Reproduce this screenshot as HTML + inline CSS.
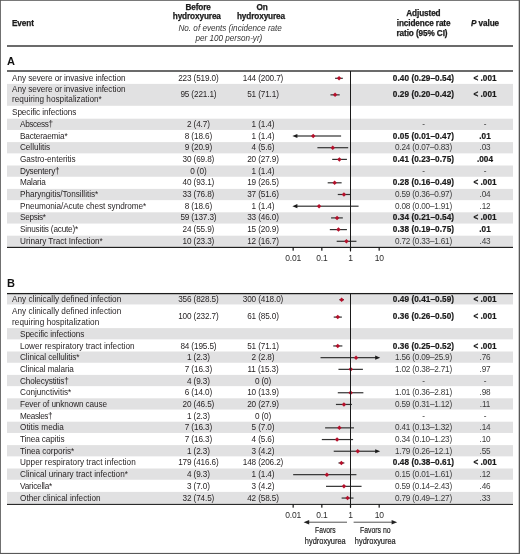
<!DOCTYPE html>
<html lang="en"><head><meta charset="utf-8"><title>Forest plot: infections before and on hydroxyurea</title>
<style>
html,body{margin:0;padding:0;background:#fff}
body{width:520px;height:554px;position:relative;overflow:hidden;font-family:"Liberation Sans",sans-serif;color:#231f20;font-size:8px}
svg{position:absolute;left:0;top:0}
.c{position:absolute;white-space:nowrap;font-size:8.2px;line-height:10px}
.ev{letter-spacing:-0.07px}
.n1,.n2{letter-spacing:-0.13px}
.pv.b{letter-spacing:0px}
.pv.l{letter-spacing:-0.1px}
.n1{left:148.4px;width:100px;text-align:center}
.n2{left:213px;width:100px;text-align:center}
.irr{left:373.5px;width:100px;text-align:center}
.pv{left:435px;width:100px;text-align:center}
.b{font-weight:bold;color:#1a1a1a;-webkit-text-stroke:0.2px #1a1a1a}
.irr.b{letter-spacing:0.08px}
.irr.l{letter-spacing:-0.19px}
.l{color:#3a3a3a}
.h{position:absolute;-webkit-text-stroke:0.25px #1a1a1a;font-weight:bold;font-size:8.2px;letter-spacing:-0.1px;white-space:nowrap;color:#1a1a1a}
.ctr{text-align:center}
.sub{position:absolute;font-style:italic;font-size:8.15px;white-space:nowrap;color:#333}
.sec{position:absolute;left:7px;font-weight:bold;font-size:11px;line-height:13px;color:#111}
.tk{font-family:"Liberation Sans",sans-serif;font-size:8.5px;letter-spacing:-0.2px;fill:#2e2e2e}
.fv{font-family:"Liberation Sans",sans-serif;font-size:9.6px;fill:#222;stroke:#222;stroke-width:0.2px}
</style></head><body>
<svg width="520" height="554" viewBox="0 0 520 554">
<rect x="7.00" y="83.90" width="506.00" height="21.90" fill="#e1e1e2"/>
<rect x="7.00" y="118.70" width="506.00" height="11.25" fill="#e1e1e2"/>
<rect x="7.00" y="142.10" width="506.00" height="11.25" fill="#e1e1e2"/>
<rect x="7.00" y="165.50" width="506.00" height="11.25" fill="#e1e1e2"/>
<rect x="7.00" y="188.90" width="506.00" height="11.25" fill="#e1e1e2"/>
<rect x="7.00" y="212.30" width="506.00" height="11.25" fill="#e1e1e2"/>
<rect x="7.00" y="235.70" width="506.00" height="11.25" fill="#e1e1e2"/>
<rect x="335.09" y="77.70" width="7.74" height="1.2" fill="#333333"/>
<path d="M336.84 78.30L339.09 76.05L341.34 78.30L339.09 80.55Z" fill="#b5102b"/>
<rect x="330.46" y="94.25" width="9.24" height="1.2" fill="#333333"/>
<path d="M332.84 94.85L335.09 92.60L337.34 94.85L335.09 97.10Z" fill="#b5102b"/>
<rect x="296.40" y="135.40" width="44.70" height="1.2" fill="#333333"/>
<path d="M292.40 136.00L297.40 133.90L297.40 138.10Z" fill="#1a1a1a"/>
<path d="M310.95 136.00L313.20 133.75L315.45 136.00L313.20 138.25Z" fill="#b5102b"/>
<rect x="317.39" y="147.10" width="30.79" height="1.2" fill="#333333"/>
<path d="M330.48 147.70L332.73 145.45L334.98 147.70L332.73 149.95Z" fill="#b5102b"/>
<rect x="332.20" y="158.80" width="14.72" height="1.2" fill="#333333"/>
<path d="M337.15 159.40L339.40 157.15L341.65 159.40L339.40 161.65Z" fill="#b5102b"/>
<rect x="327.68" y="182.20" width="13.94" height="1.2" fill="#333333"/>
<path d="M332.40 182.80L334.65 180.55L336.90 182.80L334.65 185.05Z" fill="#b5102b"/>
<rect x="337.78" y="193.90" width="12.34" height="1.2" fill="#333333"/>
<path d="M341.68 194.50L343.93 192.25L346.18 194.50L343.93 196.75Z" fill="#b5102b"/>
<rect x="296.40" y="205.60" width="62.16" height="1.2" fill="#333333"/>
<path d="M292.40 206.20L297.40 204.10L297.40 208.30Z" fill="#1a1a1a"/>
<path d="M316.80 206.20L319.05 203.95L321.30 206.20L319.05 208.45Z" fill="#b5102b"/>
<rect x="331.07" y="217.30" width="11.76" height="1.2" fill="#333333"/>
<path d="M334.82 217.90L337.07 215.65L339.32 217.90L337.07 220.15Z" fill="#b5102b"/>
<rect x="329.82" y="229.00" width="17.10" height="1.2" fill="#333333"/>
<path d="M336.20 229.60L338.45 227.35L340.70 229.60L338.45 231.85Z" fill="#b5102b"/>
<rect x="336.70" y="240.70" width="19.73" height="1.2" fill="#333333"/>
<path d="M344.16 241.30L346.41 239.05L348.66 241.30L346.41 243.55Z" fill="#b5102b"/>
<rect x="7.00" y="293.90" width="506.00" height="10.55" fill="#e1e1e2"/>
<rect x="7.00" y="328.10" width="506.00" height="11.25" fill="#e1e1e2"/>
<rect x="7.00" y="351.50" width="506.00" height="11.25" fill="#e1e1e2"/>
<rect x="7.00" y="374.90" width="506.00" height="11.25" fill="#e1e1e2"/>
<rect x="7.00" y="398.30" width="506.00" height="11.25" fill="#e1e1e2"/>
<rect x="7.00" y="421.70" width="506.00" height="11.25" fill="#e1e1e2"/>
<rect x="7.00" y="445.10" width="506.00" height="11.25" fill="#e1e1e2"/>
<rect x="7.00" y="468.50" width="506.00" height="11.25" fill="#e1e1e2"/>
<rect x="7.00" y="491.90" width="506.00" height="11.25" fill="#e1e1e2"/>
<rect x="339.40" y="299.10" width="4.53" height="1.2" fill="#333333"/>
<path d="M339.37 299.70L341.62 297.45L343.87 299.70L341.62 301.95Z" fill="#b5102b"/>
<rect x="333.73" y="316.50" width="8.14" height="1.2" fill="#333333"/>
<path d="M335.53 317.10L337.78 314.85L340.03 317.10L337.78 319.35Z" fill="#b5102b"/>
<rect x="333.24" y="345.35" width="9.12" height="1.2" fill="#333333"/>
<path d="M335.53 345.95L337.78 343.70L340.03 345.95L337.78 348.20Z" fill="#b5102b"/>
<rect x="320.52" y="357.05" width="55.68" height="1.2" fill="#333333"/>
<path d="M380.20 357.65L375.20 355.55L375.20 359.75Z" fill="#1a1a1a"/>
<path d="M353.79 357.65L356.04 355.40L358.29 357.65L356.04 359.90Z" fill="#b5102b"/>
<rect x="338.45" y="368.75" width="24.46" height="1.2" fill="#333333"/>
<path d="M348.50 369.35L350.75 367.10L353.00 369.35L350.75 371.60Z" fill="#b5102b"/>
<rect x="337.78" y="392.15" width="25.59" height="1.2" fill="#333333"/>
<path d="M348.37 392.75L350.62 390.50L352.87 392.75L350.62 395.00Z" fill="#b5102b"/>
<rect x="335.92" y="403.85" width="15.99" height="1.2" fill="#333333"/>
<path d="M341.68 404.45L343.93 402.20L346.18 404.45L343.93 406.70Z" fill="#b5102b"/>
<rect x="325.10" y="427.25" width="28.86" height="1.2" fill="#333333"/>
<path d="M337.15 427.85L339.40 425.60L341.65 427.85L339.40 430.10Z" fill="#b5102b"/>
<rect x="321.83" y="438.95" width="31.25" height="1.2" fill="#333333"/>
<path d="M334.82 439.55L337.07 437.30L339.32 439.55L337.07 441.80Z" fill="#b5102b"/>
<rect x="333.73" y="450.65" width="42.47" height="1.2" fill="#333333"/>
<path d="M380.20 451.25L375.20 449.15L375.20 453.35Z" fill="#1a1a1a"/>
<path d="M355.50 451.25L357.75 449.00L360.00 451.25L357.75 453.50Z" fill="#b5102b"/>
<rect x="338.45" y="462.35" width="5.89" height="1.2" fill="#333333"/>
<path d="M339.11 462.95L341.36 460.70L343.61 462.95L341.36 465.20Z" fill="#b5102b"/>
<rect x="293.16" y="474.05" width="63.27" height="1.2" fill="#333333"/>
<path d="M324.63 474.65L326.88 472.40L329.13 474.65L326.88 476.90Z" fill="#b5102b"/>
<rect x="326.02" y="485.75" width="35.54" height="1.2" fill="#333333"/>
<path d="M341.68 486.35L343.93 484.10L346.18 486.35L343.93 488.60Z" fill="#b5102b"/>
<rect x="341.62" y="497.45" width="11.86" height="1.2" fill="#333333"/>
<path d="M345.31 498.05L347.56 495.80L349.81 498.05L347.56 500.30Z" fill="#b5102b"/>
<rect x="7.00" y="45.35" width="506.00" height="1.30" fill="#1c1c1c"/>
<rect x="7.00" y="70.35" width="506.00" height="1.30" fill="#1c1c1c"/>
<rect x="7.00" y="246.83" width="506.00" height="1.15" fill="#1c1c1c"/>
<rect x="7.00" y="292.98" width="506.00" height="1.25" fill="#1c1c1c"/>
<rect x="7.00" y="503.78" width="506.00" height="1.15" fill="#1c1c1c"/>
<rect x="350.00" y="71" width="1.0" height="180.5" fill="#1a1a1a"/>
<rect x="350.00" y="293.6" width="1.0" height="214" fill="#1a1a1a"/>
<rect x="292.56" y="247.40" width="1.2" height="3.3" fill="#151515"/>
<text x="293.16" y="260.60" text-anchor="middle" class="tk">0.01</text>
<rect x="321.23" y="247.40" width="1.2" height="3.3" fill="#151515"/>
<text x="321.83" y="260.60" text-anchor="middle" class="tk">0.1</text>
<rect x="349.90" y="247.40" width="1.2" height="3.3" fill="#151515"/>
<text x="350.50" y="260.60" text-anchor="middle" class="tk">1</text>
<rect x="378.57" y="247.40" width="1.2" height="3.3" fill="#151515"/>
<text x="379.17" y="260.60" text-anchor="middle" class="tk">10</text>
<rect x="292.56" y="504.35" width="1.2" height="3.3" fill="#151515"/>
<text x="293.16" y="517.55" text-anchor="middle" class="tk">0.01</text>
<rect x="321.23" y="504.35" width="1.2" height="3.3" fill="#151515"/>
<text x="321.83" y="517.55" text-anchor="middle" class="tk">0.1</text>
<rect x="349.90" y="504.35" width="1.2" height="3.3" fill="#151515"/>
<text x="350.50" y="517.55" text-anchor="middle" class="tk">1</text>
<rect x="378.57" y="504.35" width="1.2" height="3.3" fill="#151515"/>
<text x="379.17" y="517.55" text-anchor="middle" class="tk">10</text>
<rect x="307" y="521.7" width="40" height="1" fill="#555"/>
<path d="M303.6 522.2L309.2 520.0L309.2 524.4000000000001Z" fill="#222"/>
<rect x="353.6" y="521.7" width="40" height="1" fill="#555"/>
<path d="M397.2 522.2L391.6 520.0L391.6 524.4000000000001Z" fill="#222"/>
<text transform="translate(325.3 533.4) scale(0.7 1)" text-anchor="middle" class="fv">Favors</text>
<text transform="translate(325.3 544.4) scale(0.775 1)" text-anchor="middle" class="fv">hydroxyurea</text>
<text transform="translate(375.3 533.4) scale(0.72 1)" text-anchor="middle" class="fv">Favors no</text>
<text transform="translate(375.3 544.4) scale(0.775 1)" text-anchor="middle" class="fv">hydroxyurea</text>
<rect x="0" y="0" width="0.85" height="554" fill="#585858"/>
<rect x="0" y="0" width="520" height="0.8" fill="#585858"/>
<rect x="518.7" y="0" width="1.3" height="554" fill="#585858"/>
<rect x="0" y="552.9" width="520" height="1.1" fill="#585858"/>
</svg>
<div class="h" style="left:12px;top:19px;line-height:10px">Event</div>
<div class="h ctr" style="left:148.1px;width:100px;top:3px;line-height:10px">Before</div>
<div class="h ctr" style="left:146.8px;width:100px;top:12px;line-height:10px">hydroxyurea</div>
<div class="h ctr" style="left:212.2px;width:100px;top:3px;line-height:10px">On</div>
<div class="h ctr" style="left:211px;width:100px;top:12px;line-height:10px">hydroxyurea</div>
<div class="sub ctr" style="left:150.2px;width:160px;top:24px;line-height:10px">No. of events (incidence rate</div>
<div class="sub ctr" style="left:148.9px;width:160px;top:34px;line-height:10px">per 100 person-yr)</div>
<div class="h ctr" style="left:373.4px;width:100px;top:9px;line-height:10px">Adjusted</div>
<div class="h ctr" style="left:373.6px;width:100px;top:19px;line-height:10px">incidence rate</div>
<div class="h ctr" style="left:372px;width:100px;top:29px;line-height:10px">ratio (95% CI)</div>
<div class="h ctr" style="left:435px;width:100px;top:19px;line-height:10px"><i>P</i> value</div>
<div class="sec" style="top:54.5px">A</div>
<div class="sec" style="top:277.2px">B</div>
<div class="c ev" style="top:74px;left:12px;letter-spacing:-0.055px">Any severe or invasive infection</div>
<div class="c n1" style="top:74px">223 (519.0)</div>
<div class="c n2" style="top:74px">144 (200.7)</div>
<div class="c irr b" style="top:74px">0.40 (0.29–0.54)</div>
<div class="c pv b" style="top:74px">< .001</div>
<div class="c ev" style="top:85px;left:12px;letter-spacing:-0.055px">Any severe or invasive infection</div>
<div class="c ev" style="top:95px;left:12px;letter-spacing:0.021px">requiring hospitalization*</div>
<div class="c n1" style="top:90px">95 (221.1)</div>
<div class="c n2" style="top:90px">51 (71.1)</div>
<div class="c irr b" style="top:90px">0.29 (0.20–0.42)</div>
<div class="c pv b" style="top:90px">< .001</div>
<div class="c ev" style="top:108px;left:12px;letter-spacing:-0.07px">Specific infections</div>
<div class="c ev" style="top:120px;left:20px;letter-spacing:-0.333px">Abscess†</div>
<div class="c n1" style="top:120px">2 (4.7)</div>
<div class="c n2" style="top:120px">1 (1.4)</div>
<div class="c irr l" style="top:120px">-</div>
<div class="c pv l" style="top:120px">-</div>
<div class="c ev" style="top:132px;left:20px;letter-spacing:-0.144px">Bacteraemia*</div>
<div class="c n1" style="top:132px">8 (18.6)</div>
<div class="c n2" style="top:132px">1 (1.4)</div>
<div class="c irr b" style="top:132px">0.05 (0.01–0.47)</div>
<div class="c pv b" style="top:132px">.01</div>
<div class="c ev" style="top:143px;left:20px;letter-spacing:-0.051px">Cellulitis</div>
<div class="c n1" style="top:143px">9 (20.9)</div>
<div class="c n2" style="top:143px">4 (5.6)</div>
<div class="c irr l" style="top:143px">0.24 (0.07–0.83)</div>
<div class="c pv l" style="top:143px">.03</div>
<div class="c ev" style="top:155px;left:20px;letter-spacing:-0.03px">Gastro-enteritis</div>
<div class="c n1" style="top:155px">30 (69.8)</div>
<div class="c n2" style="top:155px">20 (27.9)</div>
<div class="c irr b" style="top:155px">0.41 (0.23–0.75)</div>
<div class="c pv b" style="top:155px">.004</div>
<div class="c ev" style="top:167px;left:20px;letter-spacing:-0.202px">Dysentery†</div>
<div class="c n1" style="top:167px">0 (0)</div>
<div class="c n2" style="top:167px">1 (1.4)</div>
<div class="c irr l" style="top:167px">-</div>
<div class="c pv l" style="top:167px">-</div>
<div class="c ev" style="top:178px;left:20px;letter-spacing:-0.171px">Malaria</div>
<div class="c n1" style="top:178px">40 (93.1)</div>
<div class="c n2" style="top:178px">19 (26.5)</div>
<div class="c irr b" style="top:178px">0.28 (0.16–0.49)</div>
<div class="c pv b" style="top:178px">< .001</div>
<div class="c ev" style="top:190px;left:20px;letter-spacing:-0.021px">Pharyngitis/Tonsillitis*</div>
<div class="c n1" style="top:190px">33 (76.8)</div>
<div class="c n2" style="top:190px">37 (51.6)</div>
<div class="c irr l" style="top:190px">0.59 (0.36–0.97)</div>
<div class="c pv l" style="top:190px">.04</div>
<div class="c ev" style="top:202px;left:20px;letter-spacing:-0.054px">Pneumonia/Acute chest syndrome*</div>
<div class="c n1" style="top:202px">8 (18.6)</div>
<div class="c n2" style="top:202px">1 (1.4)</div>
<div class="c irr l" style="top:202px">0.08 (0.00–1.91)</div>
<div class="c pv l" style="top:202px">.12</div>
<div class="c ev" style="top:213px;left:20px;letter-spacing:-0.31px">Sepsis*</div>
<div class="c n1" style="top:213px">59 (137.3)</div>
<div class="c n2" style="top:213px">33 (46.0)</div>
<div class="c irr b" style="top:213px">0.34 (0.21–0.54)</div>
<div class="c pv b" style="top:213px">< .001</div>
<div class="c ev" style="top:225px;left:20px;letter-spacing:-0.191px">Sinusitis (acute)*</div>
<div class="c n1" style="top:225px">24 (55.9)</div>
<div class="c n2" style="top:225px">15 (20.9)</div>
<div class="c irr b" style="top:225px">0.38 (0.19–0.75)</div>
<div class="c pv b" style="top:225px">.01</div>
<div class="c ev" style="top:237px;left:20px;letter-spacing:-0.023px">Urinary Tract Infection*</div>
<div class="c n1" style="top:237px">10 (23.3)</div>
<div class="c n2" style="top:237px">12 (16.7)</div>
<div class="c irr l" style="top:237px">0.72 (0.33–1.61)</div>
<div class="c pv l" style="top:237px">.43</div>
<div class="c ev" style="top:295px;left:12px;letter-spacing:0.015px">Any clinically defined infection</div>
<div class="c n1" style="top:295px">356 (828.5)</div>
<div class="c n2" style="top:295px">300 (418.0)</div>
<div class="c irr b" style="top:295px">0.49 (0.41–0.59)</div>
<div class="c pv b" style="top:295px">< .001</div>
<div class="c ev" style="top:307px;left:12px;letter-spacing:0.015px">Any clinically defined infection</div>
<div class="c ev" style="top:318px;left:12px;letter-spacing:0.05px">requiring hospitalization</div>
<div class="c n1" style="top:312px">100 (232.7)</div>
<div class="c n2" style="top:312px">61 (85.0)</div>
<div class="c irr b" style="top:312px">0.36 (0.26–0.50)</div>
<div class="c pv b" style="top:312px">< .001</div>
<div class="c ev" style="top:330px;left:20px;letter-spacing:-0.07px">Specific infections</div>
<div class="c ev" style="top:342px;left:20px;letter-spacing:0.009px">Lower respiratory tract infection</div>
<div class="c n1" style="top:342px">84 (195.5)</div>
<div class="c n2" style="top:342px">51 (71.1)</div>
<div class="c irr b" style="top:342px">0.36 (0.25–0.52)</div>
<div class="c pv b" style="top:342px">< .001</div>
<div class="c ev" style="top:353px;left:20px;letter-spacing:-0.052px">Clinical cellulitis*</div>
<div class="c n1" style="top:353px">1 (2.3)</div>
<div class="c n2" style="top:353px">2 (2.8)</div>
<div class="c irr l" style="top:353px">1.56 (0.09–25.9)</div>
<div class="c pv l" style="top:353px">.76</div>
<div class="c ev" style="top:365px;left:20px;letter-spacing:-0.114px">Clinical malaria</div>
<div class="c n1" style="top:365px">7 (16.3)</div>
<div class="c n2" style="top:365px">11 (15.3)</div>
<div class="c irr l" style="top:365px">1.02 (0.38–2.71)</div>
<div class="c pv l" style="top:365px">.97</div>
<div class="c ev" style="top:377px;left:20px;letter-spacing:-0.131px">Cholecystitis†</div>
<div class="c n1" style="top:377px">4 (9.3)</div>
<div class="c n2" style="top:377px">0 (0)</div>
<div class="c irr l" style="top:377px">-</div>
<div class="c pv l" style="top:377px">-</div>
<div class="c ev" style="top:388px;left:20px;letter-spacing:-0.012px">Conjunctivitis*</div>
<div class="c n1" style="top:388px">6 (14.0)</div>
<div class="c n2" style="top:388px">10 (13.9)</div>
<div class="c irr l" style="top:388px">1.01 (0.36–2.81)</div>
<div class="c pv l" style="top:388px">.98</div>
<div class="c ev" style="top:400px;left:20px;letter-spacing:-0.102px">Fever of unknown cause</div>
<div class="c n1" style="top:400px">20 (46.5)</div>
<div class="c n2" style="top:400px">20 (27.9)</div>
<div class="c irr l" style="top:400px">0.59 (0.31–1.12)</div>
<div class="c pv l" style="top:400px">.11</div>
<div class="c ev" style="top:412px;left:20px;letter-spacing:-0.34px">Measles†</div>
<div class="c n1" style="top:412px">1 (2.3)</div>
<div class="c n2" style="top:412px">0 (0)</div>
<div class="c irr l" style="top:412px">-</div>
<div class="c pv l" style="top:412px">-</div>
<div class="c ev" style="top:423px;left:20px;letter-spacing:0.049px">Otitis media</div>
<div class="c n1" style="top:423px">7 (16.3)</div>
<div class="c n2" style="top:423px">5 (7.0)</div>
<div class="c irr l" style="top:423px">0.41 (0.13–1.32)</div>
<div class="c pv l" style="top:423px">.14</div>
<div class="c ev" style="top:435px;left:20px;letter-spacing:-0.098px">Tinea capitis</div>
<div class="c n1" style="top:435px">7 (16.3)</div>
<div class="c n2" style="top:435px">4 (5.6)</div>
<div class="c irr l" style="top:435px">0.34 (0.10–1.23)</div>
<div class="c pv l" style="top:435px">.10</div>
<div class="c ev" style="top:447px;left:20px;letter-spacing:-0.032px">Tinea corporis*</div>
<div class="c n1" style="top:447px">1 (2.3)</div>
<div class="c n2" style="top:447px">3 (4.2)</div>
<div class="c irr l" style="top:447px">1.79 (0.26–12.1)</div>
<div class="c pv l" style="top:447px">.55</div>
<div class="c ev" style="top:458px;left:20px;letter-spacing:0.047px">Upper respiratory tract infection</div>
<div class="c n1" style="top:458px">179 (416.6)</div>
<div class="c n2" style="top:458px">148 (206.2)</div>
<div class="c irr b" style="top:458px">0.48 (0.38–0.61)</div>
<div class="c pv b" style="top:458px">< .001</div>
<div class="c ev" style="top:470px;left:20px;letter-spacing:0.001px">Clinical urinary tract infection*</div>
<div class="c n1" style="top:470px">4 (9.3)</div>
<div class="c n2" style="top:470px">1 (1.4)</div>
<div class="c irr l" style="top:470px">0.15 (0.01–1.61)</div>
<div class="c pv l" style="top:470px">.12</div>
<div class="c ev" style="top:482px;left:20px;letter-spacing:-0.188px">Varicella*</div>
<div class="c n1" style="top:482px">3 (7.0)</div>
<div class="c n2" style="top:482px">3 (4.2)</div>
<div class="c irr l" style="top:482px">0.59 (0.14–2.43)</div>
<div class="c pv l" style="top:482px">.46</div>
<div class="c ev" style="top:494px;left:20px;letter-spacing:0.019px">Other clinical infection</div>
<div class="c n1" style="top:494px">32 (74.5)</div>
<div class="c n2" style="top:494px">42 (58.5)</div>
<div class="c irr l" style="top:494px">0.79 (0.49–1.27)</div>
<div class="c pv l" style="top:494px">.33</div>
</body></html>
